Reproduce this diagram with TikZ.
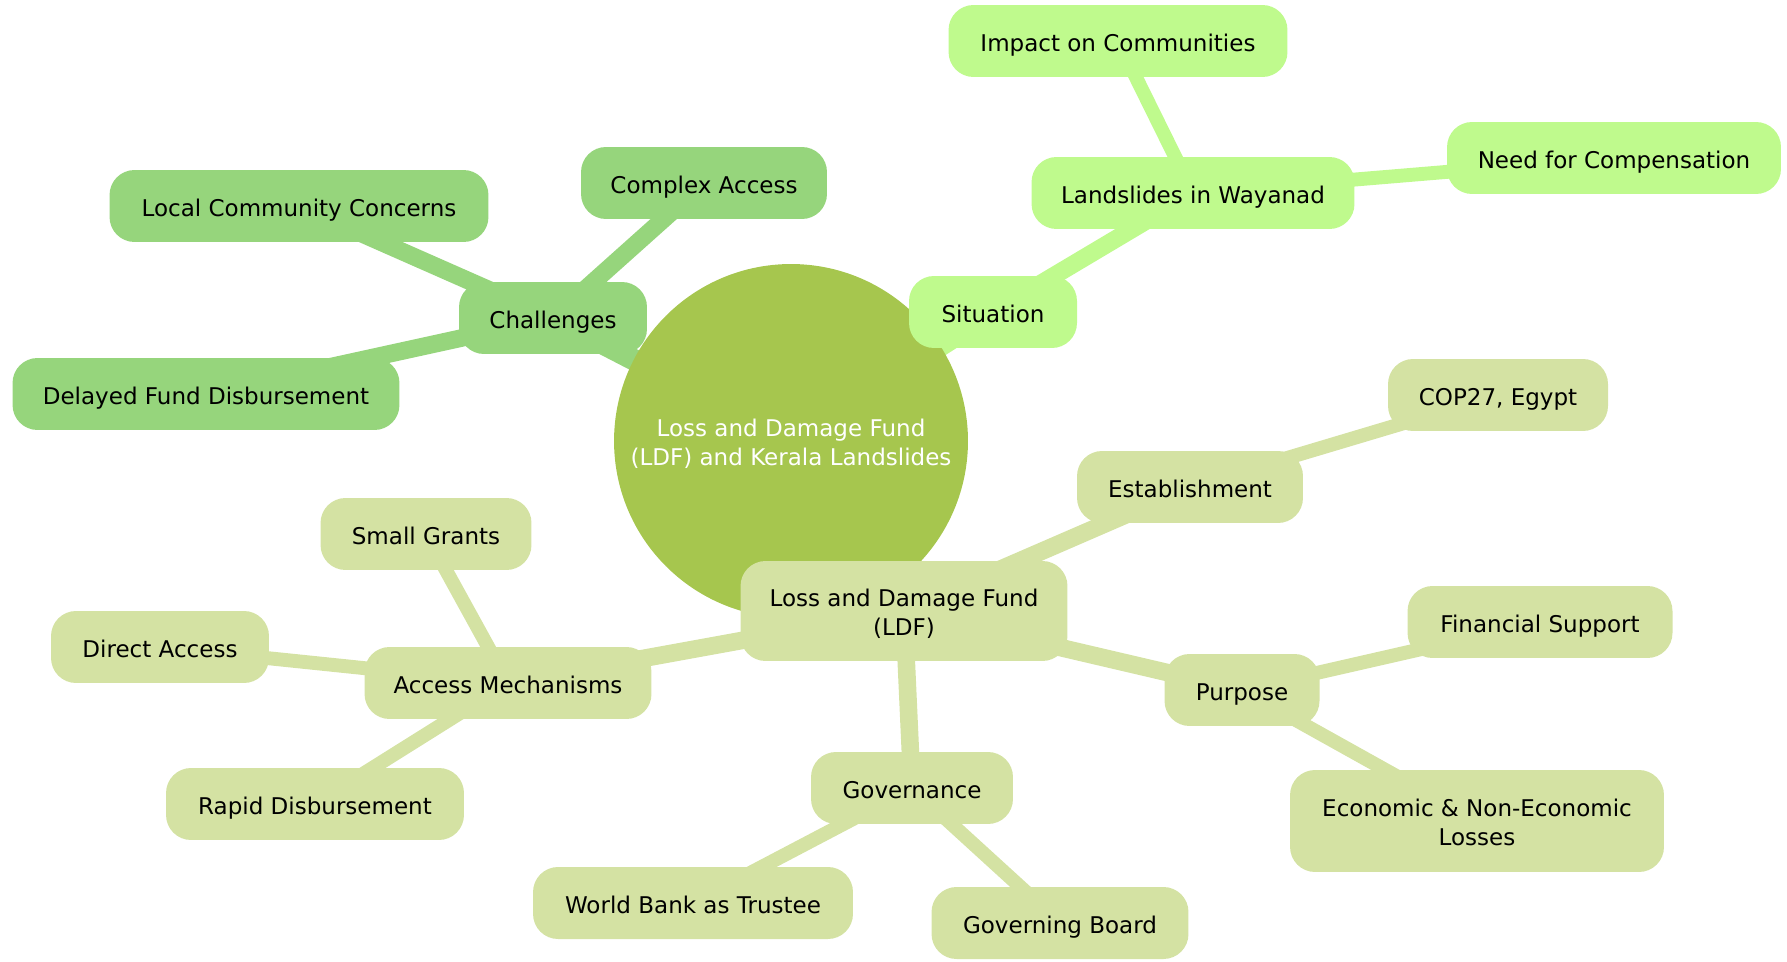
\documentclass[tikz,border=0pt]{standalone}
\usepackage{fontspec}
\setmainfont{DejaVu Sans}
\usepackage{tikz}
\definecolor{rootGreen}{RGB}{166,198,78}
\definecolor{chalGreen}{RGB}{150,213,124}
\definecolor{sitGreen}{RGB}{191,250,141}
\definecolor{ldfGreen}{RGB}{212,226,163}
\pgfdeclarelayer{edges}
\pgfsetlayers{edges,main}
\tikzset{
box/.style = {rectangle, rounded corners=0.5cm, minimum height=1.44cm,
              inner sep=0pt, align=center, minimum width=#1,
              text height=12pt, text depth=0.5pt},
box/.default = 4cm, % width of the rounded box
twoline/.style = {minimum height=#1, text height=28.3pt}
}
\tikzset{
link/.style = {line width=#1},
link/.default = 0.352cm
}

\begin{document}
\begin{tikzpicture}[x=0.02cm, y=-0.02cm, font=\fontsize{13.1}{16.3}\selectfont]
    \useasboundingbox (0,0) rectangle (1787,962);

    \node[circle, fill=rootGreen, minimum size=7.08cm, text=white, align=center,
          text height=28.3pt, text depth=0.5pt] (rootCircle) at (791,441) {Loss and Damage Fund\\(LDF) and Kerala Landslides};

    % challenges
    \node[box=3.76cm, fill=chalGreen] (challengesBox) at (553,318) {Challenges};
    \node[box=7.58cm, fill=chalGreen] (localBox) at (299,206) {Local Community Concerns};
    \node[box=4.92cm, fill=chalGreen] (complexBox) at (704,183) {Complex Access};
    \node[box=7.74cm, fill=chalGreen] (delayedBox) at (206,394) {Delayed Fund Disbursement};

    % situation
    \node[box=3.36cm, fill=sitGreen] (situationBox) at (993,312) {Situation};
    \node[box=6.46cm, fill=sitGreen] (landslidesBox) at (1193,193) {Landslides in Wayanad};
    \node[box=6.78cm, fill=sitGreen] (impactBox) at (1118,41) {Impact on Communities};
    \node[box=6.68cm, fill=sitGreen] (needBox) at (1614,158) {Need for Compensation};

    % fund
    \node[box=6.54cm, twoline=2cm, fill=ldfGreen] (ldfBox) at (904,611) {Loss and Damage Fund\\(LDF)};
    \node[box=4.52cm, fill=ldfGreen] (establishBox) at (1190,487) {Establishment};
    \node[box=4.40cm, fill=ldfGreen] (copBox) at (1498,395) {COP27, Egypt};
    \node[box=3.10cm, fill=ldfGreen] (purposeBox) at (1242,690) {Purpose};
    \node[box=5.30cm, fill=ldfGreen] (financialBox) at (1540,622) {Financial Support};
    \node[box=7.48cm, twoline=2.04cm, fill=ldfGreen] (econBox) at (1477,821) {Economic \& Non-Economic\\Losses};
    \node[box=4.04cm, fill=ldfGreen] (governanceBox) at (912,788) {Governance};
    \node[box=6.40cm, fill=ldfGreen] (trusteeBox) at (693,903) {World Bank as Trustee};
    \node[box=5.14cm, fill=ldfGreen] (boardBox) at (1060,923) {Governing Board};
    \node[box=5.74cm, fill=ldfGreen] (accessBox) at (508,683) {Access Mechanisms};
    \node[box=4.22cm, fill=ldfGreen] (grantsBox) at (426,534) {Small Grants};
    \node[box=4.36cm, fill=ldfGreen] (directBox) at (160,647) {Direct Access};
    \node[box=5.96cm, fill=ldfGreen] (rapidBox) at (315,804) {Rapid Disbursement};

    \begin{pgfonlayer}{edges}
    \draw[link=0.43cm, chalGreen] (rootCircle.center) -- (challengesBox.center);
    \draw[link, chalGreen] (challengesBox.center) -- (localBox.center);
    \draw[link, chalGreen] (challengesBox.center) -- (complexBox.center);
    \draw[link, chalGreen] (challengesBox.center) -- (delayedBox.center);

    \draw[link=0.43cm, sitGreen] (rootCircle.center) -- (situationBox.center);
    \draw[link, sitGreen] (situationBox.center) -- (landslidesBox.center);
    \draw[link=0.278cm, sitGreen] (landslidesBox.center) -- (impactBox.center);
    \draw[link=0.278cm, sitGreen] (landslidesBox.center) -- (needBox.center);

    \draw[link=0.43cm, ldfGreen] (rootCircle.center) -- (ldfBox.center);
    \draw[link, ldfGreen] (ldfBox.center) -- (establishBox.center);
    \draw[link, ldfGreen] (ldfBox.center) -- (purposeBox.center);
    \draw[link, ldfGreen] (ldfBox.center) -- (governanceBox.center);
    \draw[link, ldfGreen] (ldfBox.center) -- (accessBox.center);
    \draw[link=0.278cm, ldfGreen] (establishBox.center) -- (copBox.center);
    \draw[link=0.278cm, ldfGreen] (purposeBox.center) -- (financialBox.center);
    \draw[link=0.278cm, ldfGreen] (purposeBox.center) -- (econBox.center);
    \draw[link=0.278cm, ldfGreen] (governanceBox.center) -- (trusteeBox.center);
    \draw[link=0.278cm, ldfGreen] (governanceBox.center) -- (boardBox.center);
    \draw[link=0.278cm, ldfGreen] (accessBox.center) -- (grantsBox.center);
    \draw[link=0.278cm, ldfGreen] (accessBox.center) -- (directBox.center);
    \draw[link=0.278cm, ldfGreen] (accessBox.center) -- (rapidBox.center);
    \end{pgfonlayer}
\end{tikzpicture}
\end{document}
